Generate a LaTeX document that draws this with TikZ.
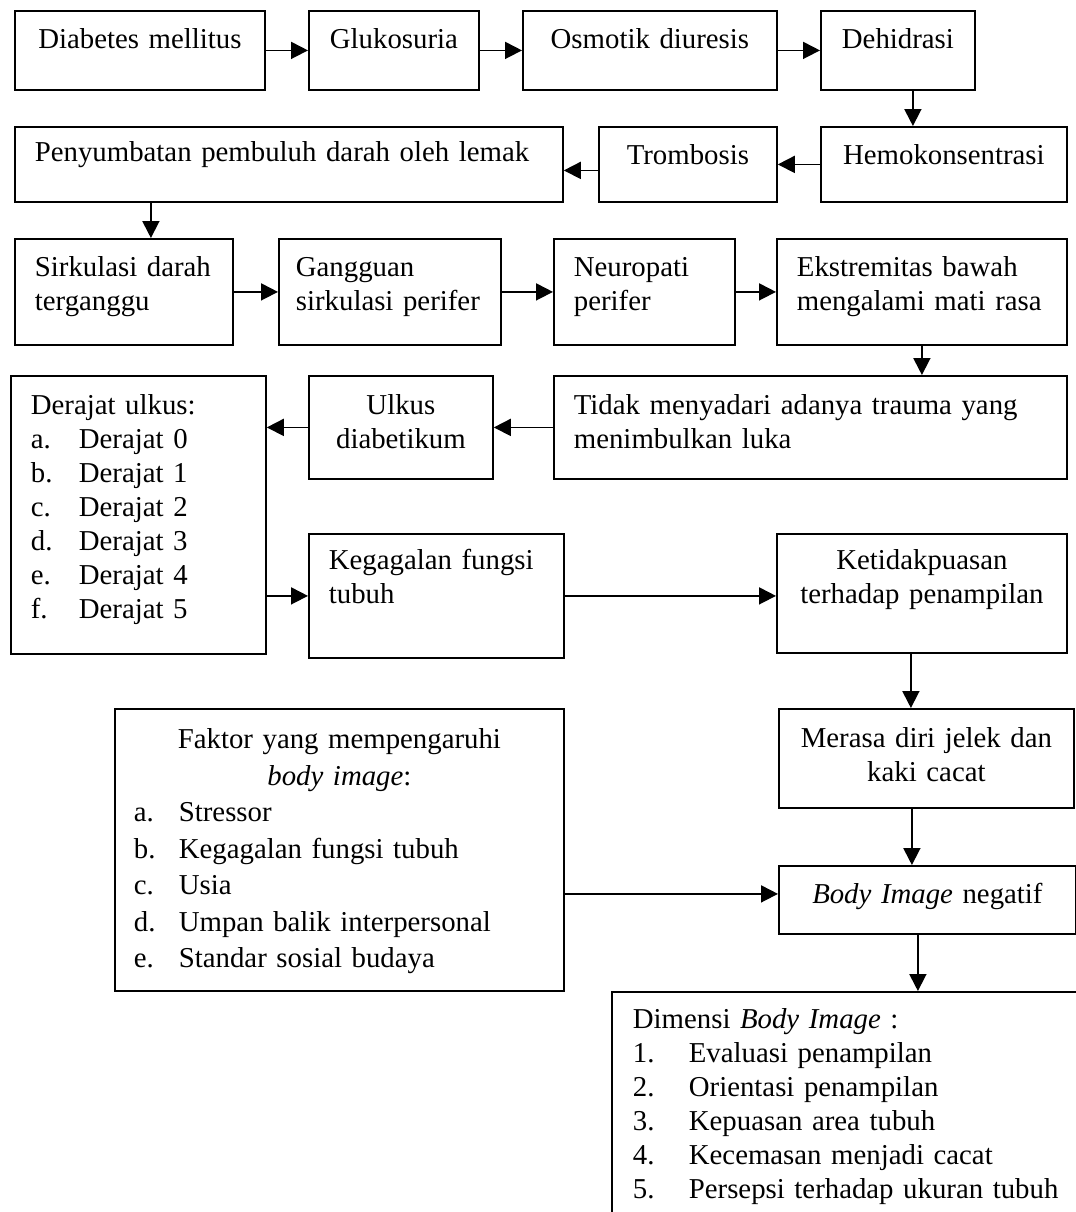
\documentclass[tikz,border=0pt]{standalone}
\usepackage{fontspec}
\setmainfont{Liberation Serif}
\usetikzlibrary{arrows.meta}
\newcommand{\lab}[2]{\makebox[#1][l]{#2}}

\begin{document}
\begin{tikzpicture}[
  x=0.5pt, y=-0.5pt,
  every node/.style={font=\fontsize{14.4pt}{17pt}\selectfont},
  box/.style={draw, line width=0.9pt, anchor=north west, inner xsep=10pt, inner ysep=0pt, text height=19pt},
  lbox/.style={box, align=left},
  cbox/.style={box, align=center},
  ar/.style={-{Triangle[length=8.5pt, width=8.5pt]}, line width=0.9pt}
]
\useasboundingbox (0,0) rectangle (1076,1212);
\fill[white] (0,0) rectangle (1076,1212);
\clip (0,0) rectangle (1076,1212);

\node[cbox, text width=105pt, text depth=20.5pt] (dm) at (14,10) {Diabetes mellitus};
\node[cbox, text width=65pt, text depth=20.5pt] (glu) at (308,10) {Glukosuria};
\node[cbox, text width=107pt, text depth=20.5pt] (osm) at (522,10) {Osmotik diuresis};
\node[cbox, text width=57pt, text depth=20.5pt] (deh) at (820,10) {Dehidrasi};
\node[lbox, text width=254pt, text height=17.5pt, text depth=20pt] (peny) at (14,126) {Penyumbatan pembuluh darah oleh lemak};
\node[cbox, text width=69pt, text depth=18.5pt] (trom) at (598,126) {Trombosis};
\node[cbox, text width=103pt, text depth=18.5pt] (hemo) at (820,126) {Hemokonsentrasi};
\node[lbox, text width=89pt, text depth=34pt] (sirk) at (14,238) {Sirkulasi darah\\terganggu};
\node[lbox, inner xsep=8.5pt, text width=94pt, text depth=34pt] (gang) at (278,238) {Gangguan\\sirkulasi perifer};
\node[lbox, text width=70.5pt, text depth=34pt] (neuro) at (553,238) {Neuropati\\perifer};
\node[lbox, text width=125pt, text depth=34pt] (ekst) at (776,238) {Ekstremitas bawah\\mengalami mati rasa};
\node[lbox, text width=107.5pt, text height=19.5pt, text depth=119.5pt] (deraj) at (10,375) {Derajat ulkus:\\
  \lab{24pt}{a.}Derajat 0\\
  \lab{24pt}{b.}Derajat 1\\
  \lab{24pt}{c.}Derajat 2\\
  \lab{24pt}{d.}Derajat 3\\
  \lab{24pt}{e.}Derajat 4\\
  \lab{24pt}{f.}Derajat 5};
\node[cbox, text width=72pt, text height=19.5pt, text depth=32pt] (ulkus) at (308,375) {Ulkus\\diabetikum};
\node[lbox, text width=236.5pt, text height=19.5pt, text depth=32pt] (tidak) at (553,375) {Tidak menyadari adanya trauma yang\\menimbulkan luka};
\node[lbox, text width=107.5pt, text height=18pt, text depth=44pt] (keg) at (308,533) {Kegagalan fungsi\\tubuh};
\node[cbox, text width=125pt, text height=18pt, text depth=41.5pt] (ketid) at (776,533) {Ketidakpuasan\\terhadap penampilan};
\node[cbox, text width=127.5pt, text height=19.5pt, text depth=30pt] (merasa) at (778,708) {Merasa diri jelek dan\\kaki cacat};
\node[lbox, inner xsep=9.5pt, text width=205.5pt, text height=20pt, text depth=121pt,
  font=\fontsize{14.4pt}{18.25pt}\selectfont] (faktor) at (114,708) {\makebox[\linewidth]{Faktor yang mempengaruhi}\\
  \makebox[\linewidth]{\textit{body image}:}\\
  \lab{22.5pt}{a.}Stressor\\
  \lab{22.5pt}{b.}Kegagalan fungsi tubuh\\
  \lab{22.5pt}{c.}Usia\\
  \lab{22.5pt}{d.}Umpan balik interpersonal\\
  \lab{22.5pt}{e.}Standar sosial budaya};
\node[cbox, text width=128.5pt, text depth=15pt] (body) at (778,865) {\textit{Body Image} negatif};
\node[lbox, inner xsep=10.5pt, text width=230pt, text height=18.5pt, text depth=115pt] (dim) at (611,991) {Dimensi \textit{Body Image} :\\
  \lab{28pt}{1.}Evaluasi penampilan\\
  \lab{28pt}{2.}Orientasi penampilan\\
  \lab{28pt}{3.}Kepuasan area tubuh\\
  \lab{28pt}{4.}Kecemasan menjadi cacat\\
  \lab{28pt}{5.}Persepsi terhadap ukuran tubuh};

\coordinate (dehx) at ([xshift=7.5pt]deh.south);
\coordinate (tromy) at ([yshift=-3pt]trom.west);
\coordinate (sirkx) at ([xshift=13.5pt]sirk.north);
\coordinate (ketx) at ([xshift=-5.5pt]ketid.south);
\coordinate (merx) at ([xshift=-7.25pt]merasa.south);
\coordinate (bodyy) at ([yshift=3pt]body.west);
\coordinate (bodx) at ([xshift=-4.75pt]body.south);

\draw[ar] (dm.east) -- (glu.west);
\draw[ar] (glu.east) -- (osm.west);
\draw[ar] (osm.east) -- (deh.west);
\draw[ar] (dehx) -- (dehx |- hemo.north);
\draw[ar] (hemo.west) -- (trom.east);
\draw[ar] (tromy) -- (tromy -| peny.east);
\draw[ar] (sirkx |- peny.south) -- (sirkx);
\draw[ar] (sirk.east) -- (gang.west);
\draw[ar] (gang.east) -- (neuro.west);
\draw[ar] (neuro.east) -- (ekst.west);
\draw[ar] (ekst.south) -- (ekst.south |- tidak.north);
\draw[ar] (tidak.west) -- (ulkus.east);
\draw[ar] (ulkus.west) -- (ulkus.west -| deraj.east);
\draw[ar] (keg.west -| deraj.east) -- (keg.west);
\draw[ar] (keg.east) -- (keg.east -| ketid.west);
\draw[ar] (ketx) -- (ketx |- merasa.north);
\draw[ar] (merx) -- (merx |- body.north);
\draw[ar] (bodyy -| faktor.east) -- (bodyy);
\draw[ar] (bodx) -- (bodx |- dim.north);
\end{tikzpicture}
\end{document}
